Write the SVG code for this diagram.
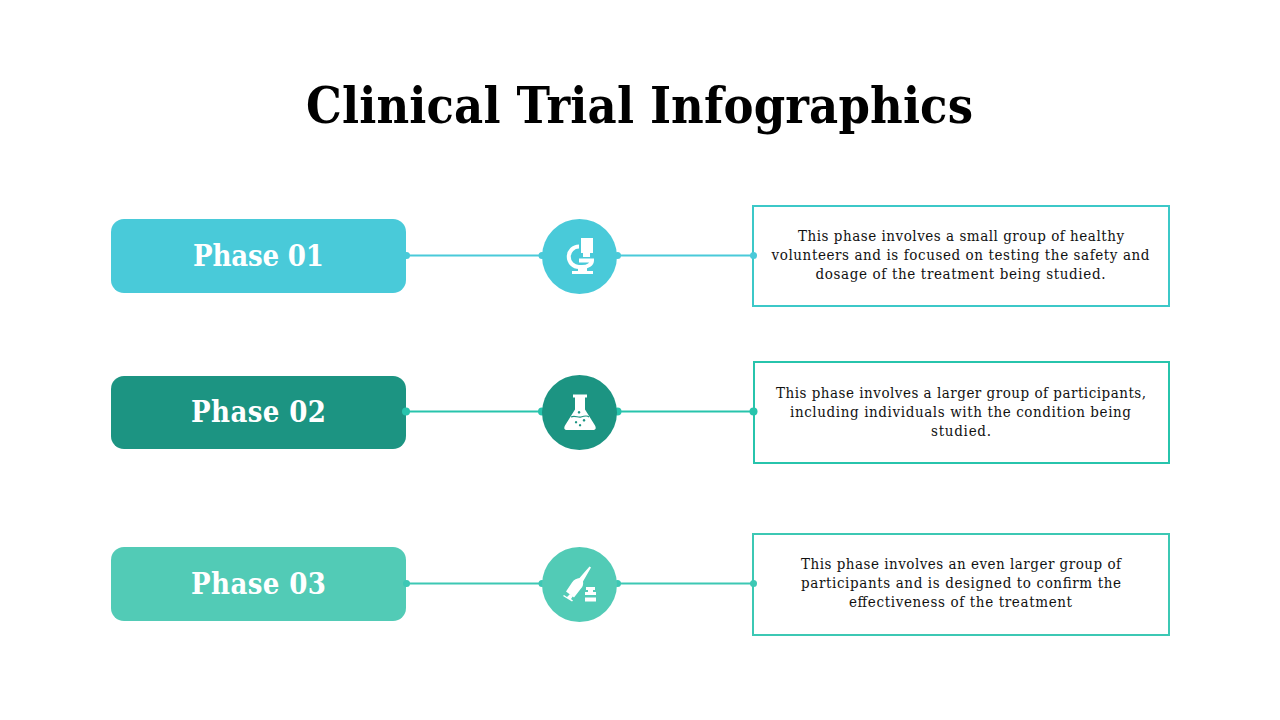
<svg xmlns="http://www.w3.org/2000/svg" width="1280" height="720" viewBox="0 0 1280 720">
<style>
.title{font:700 50px "DejaVu Serif Condensed","DejaVu Serif",serif;fill:#000}
.ph{font:700 29px "DejaVu Serif Condensed","DejaVu Serif",serif;fill:#fff;text-anchor:middle}
.d{font:15px "DejaVu Serif Condensed","DejaVu Serif",serif;fill:#111;text-anchor:middle}
.ln{stroke-width:2;fill:none}
.box{fill:#fff;stroke-width:2}
.ic{fill:#fff}
</style>
<rect width="1280" height="720" fill="#fff"/>
<text id="title" class="title" x="306" y="123" textLength="667" lengthAdjust="spacing">Clinical Trial Infographics</text>
<g id="phase1">
<rect x="111" y="219" width="295" height="74" rx="13" fill="#49cad9"/>
<text class="ph" x="258.500" y="266" textLength="131">Phase 01</text>
</g>
<g id="desc1">
<rect class="box" x="753" y="206" width="416" height="100" stroke="#3cc8c8"/>
<text class="d"><tspan x="961" y="241" textLength="326">This phase involves a small group of healthy</tspan><tspan x="960.500" y="260" textLength="378">volunteers and is focused on testing the safety and</tspan><tspan x="960.500" y="279" textLength="290">dosage of the treatment being studied.</tspan></text>
</g>
<g id="phase2">
<rect x="111" y="376" width="295" height="73" rx="13" fill="#1c9482"/>
<text class="ph" x="258.500" y="422" textLength="135">Phase 02</text>
</g>
<g id="desc2">
<rect class="box" x="754" y="362" width="415" height="101" stroke="#27c4ac"/>
<text class="d"><tspan x="961" y="398" textLength="370">This phase involves a larger group of participants,</tspan><tspan x="960.500" y="417" textLength="341">including individuals with the condition being</tspan><tspan x="961" y="436" textLength="60">studied.</tspan></text>
</g>
<g id="phase3">
<rect x="111" y="547" width="295" height="74" rx="13" fill="#52cbb6"/>
<text class="ph" x="258.500" y="594" textLength="135">Phase 03</text>
</g>
<g id="desc3">
<rect class="box" x="753" y="534" width="416" height="101" stroke="#3cc8b4"/>
<text class="d"><tspan x="961" y="569" textLength="320">This phase involves an even larger group of</tspan><tspan x="961" y="588" textLength="320">participants and is designed to confirm the</tspan><tspan x="960.500" y="607" textLength="223">effectiveness of the treatment</tspan></text>
</g>
<g id="connectors">
<g stroke="#49cad9" fill="#49cad9">
<path class="ln" d="M406 255.500H542M618 255.500H753"/>
<g stroke="none"><circle cx="406.500" cy="255.500" r="3.500"/><circle cx="542" cy="255.500" r="3.500"/><circle cx="617.500" cy="255.500" r="3.500"/><circle cx="753.500" cy="255.500" r="3.500"/></g>
</g>
<g stroke="#27c4ac" fill="#27c4ac">
<path class="ln" d="M406 411.500H542M618 411.500H753"/>
<g stroke="none"><circle cx="406" cy="411.500" r="4"/><circle cx="542" cy="411.500" r="4"/><circle cx="617.500" cy="411.500" r="4"/><circle cx="753.500" cy="411.500" r="4"/></g>
</g>
<g stroke="#3cc8b4" fill="#3cc8b4">
<path class="ln" d="M406 583.500H542M618 583.500H753"/>
<g stroke="none"><circle cx="406.500" cy="583.500" r="3.500"/><circle cx="542" cy="583.500" r="3.500"/><circle cx="617.500" cy="583.500" r="3.500"/><circle cx="753.500" cy="583.500" r="3.500"/></g>
</g>
</g>
<g id="icon1">
<circle cx="579.500" cy="256.500" r="37.500" fill="#49cad9"/>
<path class="ic" d="M581 238h12v15h-3v4h-7v-4h-2z"/>
<path d="M579 246.500a9.500 9.500 0 0 0 0 20.500h3c6 0 10-3 10-6.500h-13" fill="none" stroke="#fff" stroke-width="4"/>
<path class="ic" d="M578 267h9v4h6v3h-21v-3h6z"/>
</g>
<g id="icon2">
<circle cx="579.500" cy="412.500" r="37.500" fill="#1c9482"/>
<path class="ic" fill-rule="evenodd" d="M573 394.500h14v3h-2v12l10 16c1.500 3 .5 4.500-2 4.500h-26c-2.500 0-3.500-1.500-2-4.500l10-16v-12h-2zM579 411a1.300 1.300 0 1 0 .1 0zM584 419a1.300 1.300 0 1 0 .1 0zM576 421a1.200 1.200 0 1 0 .1 0zM580 424a1.200 1.200 0 1 0 .1 0z"/>
<path d="M571 417c4-2 7 1 10 0s6-2 8 0" stroke="#1c9482" stroke-width="1.200" fill="none"/>
</g>
<g id="icon3">
<circle cx="579.500" cy="584.500" r="37.500" fill="#52cbb6"/>
<path class="ic" d="M589.500 566.500l1.500 1-8 14c.5 2.500 0 5-2 7l-7 9-8-6 6-9c2-3 5-4 7.500-4.500z"/>
<path class="ic" d="M570 594l3 2-2 3 2 1.500-1 1-9-5.500 1-1 3 2z"/>
<path class="ic" d="M586 587h9v3h-2v2h3v3h-11v-3h3v-2h-2zM585 597.500h11v4h-11z"/>
</g>
</svg>
